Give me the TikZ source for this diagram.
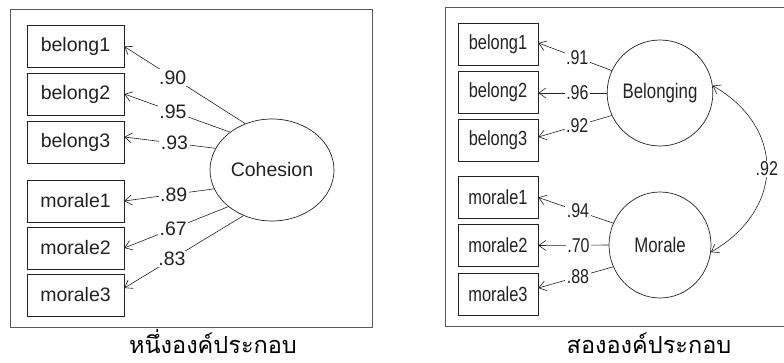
\documentclass[tikz,border=0pt]{standalone}
\usepackage{fontspec}
\setmainfont{Liberation Sans}
\newfontfamily\narrowsf[FakeStretch=0.8]{Liberation Sans}
\newfontfamily\thaifont[Script=Thai]{Loma}
\usetikzlibrary{arrows.meta,shapes.geometric}
\definecolor{ink}{HTML}{222222}
\tikzset{
  frame/.style={draw=black!65, line width=0.8pt},
  obsbox/.style={draw=ink, line width=0.7pt, minimum width=97pt, minimum height=42pt,
    inner sep=0pt, text=ink, font=\fontsize{19.5}{22}\selectfont},
  obsboxn/.style={obsbox, minimum width=80pt, font=\narrowsf\fontsize{20.5}{22}\selectfont},
  latent/.style={draw=ink, line width=0.7pt, ellipse, inner sep=0pt, text=ink},
  load/.style={draw=ink, line width=0.6pt, -{Straight Barb[length=7pt,width=10pt]}},
  corr/.style={draw=ink, line width=0.6pt, {Straight Barb[length=7pt,width=10pt]}-{Straight Barb[length=7pt,width=10pt]}},
  coef/.style={fill=white, inner sep=1.5pt, text=ink, font=\fontsize{19.5}{22}\selectfont},
  coefn/.style={coef, font=\narrowsf\fontsize{20}{22}\selectfont},
  caption/.style={text=black, font=\thaifont\fontsize{23.5}{26}\selectfont}
}
\begin{document}
\begin{tikzpicture}[x=1pt,y=1pt]
\useasboundingbox (0,0) rectangle (784,362);

% ---- one-factor model ----
\draw[frame] (10,353) rectangle (372,35);
\node[obsbox] (lb1) at (75.5,315.5) {belong1};
\node[obsbox] (lb2) at (75.5,268) {belong2};
\node[obsbox] (lb3) at (75.5,220) {belong3};
\node[obsbox] (lm1) at (75.5,161) {morale1};
\node[obsbox] (lm2) at (75.5,114) {morale2};
\node[obsbox] (lm3) at (75.5,67) {morale3};
\node[latent, minimum width=124pt, minimum height=102pt, font=\fontsize{19.5}{22}\selectfont]
  (coh) at (272,192) {Cohesion};

\draw[load] (coh.120) -- node[coef, pos=0.6] {.90} (lb1.east);
\draw[load] (coh.138) -- node[coef, pos=0.54] {.95} (lb2.east);
\draw[load] (coh.159) -- node[coef, pos=0.45] {.93} ([yshift=5pt]lb3.east);
\draw[load] (coh.198) -- node[coef, pos=0.45] {.89} (lm1.east);
\draw[load] (coh.220) -- node[coef, pos=0.53] {.67} (lm2.east);
\draw[load] (coh.238) -- node[coef, pos=0.6] {.83} ([yshift=7pt]lm3.east);

\node[caption, anchor=base] (cap1) at (213,9) {หนึ่งองค์ประกอบ};

% ---- two-factor model ----
\draw[frame] (445,355) -- (790,355) (790,36) -- (445,36) -- (445,355);
\node[obsboxn] (rb1) at (498,318) {belong1};
\node[obsboxn] (rb2) at (498,270) {belong2};
\node[obsboxn] (rb3) at (498,222) {belong3};
\node[obsboxn] (rm1) at (498,164.5) {morale1};
\node[obsboxn] (rm2) at (498,116.5) {morale2};
\node[obsboxn] (rm3) at (498,68) {morale3};
\node[latent, minimum width=102pt, minimum height=106pt, font=\narrowsf\fontsize{21}{22}\selectfont]
  (bel) at (660,269) {Belonging};
\node[latent, minimum width=102pt, minimum height=106pt, font=\narrowsf\fontsize{21}{22}\selectfont]
  (mor) at (660,117) {Morale};

\draw[load] (bel.155) -- node[coefn, pos=0.47] {.91} ([yshift=1pt]rb1.east);
\draw[load] (bel.180) -- node[coefn, pos=0.43] {.96} ([yshift=-1pt]rb2.east);
\draw[load] (bel.205) -- node[coefn, pos=0.47] {.92} ([yshift=3pt]rb3.east);
\draw[load] (mor.155) -- node[coefn, pos=0.47] {.94} (rm1.east);
\draw[load] (mor.180) -- node[coefn, pos=0.43] {.70} (rm2.east);
\draw[load] (mor.205) -- node[coefn, pos=0.47] {.88} ([yshift=6pt]rm3.east);

\draw[corr] (bel.8) to[out=-30, in=30, looseness=1.3]
  node[coefn, pos=0.5, inner sep=1pt] {.92} (mor.-8);

\node[caption, anchor=base] (cap2) at (649,9) {สององค์ประกอบ};
\end{tikzpicture}
\end{document}
